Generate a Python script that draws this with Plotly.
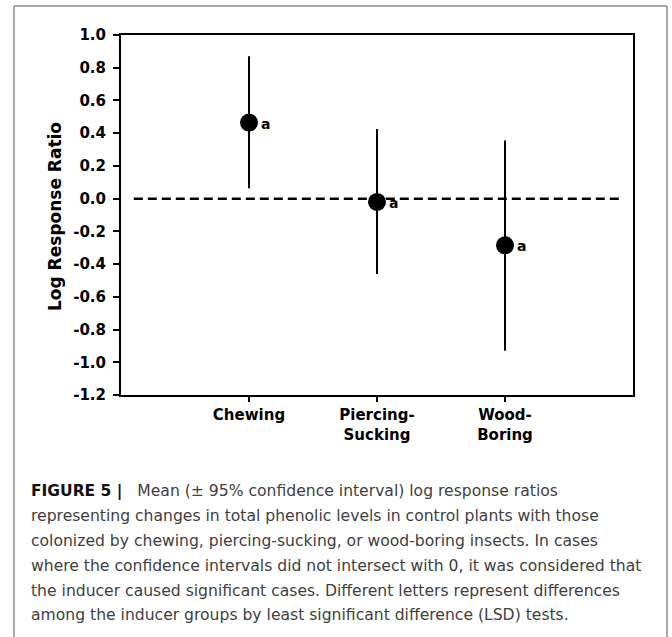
import plotly.graph_objects as go

# ---- data ----
categories = ["Chewing", "Piercing-Sucking", "Wood-Boring"]
tick_labels_x = ["Chewing", "Piercing-<br>Sucking", "Wood-<br>Boring"]
means = [0.465, -0.02, -0.285]
upper = [0.87, 0.425, 0.355]
lower = [0.063, -0.46, -0.93]
letters = ["a", "a", "a"]
y_tick_vals = [1.0, 0.8, 0.6, 0.4, 0.2, 0.0, -0.2, -0.4, -0.6, -0.8, -1.0, -1.2]
y_tick_text = ["1.0", "0.8", "0.6", "0.4", "0.2", "0.0", "-0.2", "-0.4", "-0.6", "-0.8", "-1.0", "-1.2"]
caption_lines = [
    "<span style=\"font-size:15.5px;fill:#111111\"><b>FIGURE 5 |</b></span>\u00a0\u00a0 Mean (\u00b1 95% confidence interval) log response ratios",
    "representing changes in total phenolic levels in control plants with those",
    "colonized by chewing, piercing-sucking, or wood-boring insects. In cases",
    "where the confidence intervals did not intersect with 0, it was considered that",
    "the inducer caused significant cases. Different letters represent differences",
    "among the inducer groups by least significant difference (LSD) tests.",
]

# ---- layout geometry (pixels) ----
W, H = 672, 637
L, R, T, B = 121, 633, 35, 395
PW, PH = R - L, B - T


def px(x):
    return (x - L) / PW


def py(y):
    return (B - y) / PH


xpos = list(range(len(categories)))

fig = go.Figure()
fig.add_trace(go.Scatter(
    x=xpos, y=means, mode="markers",
    marker=dict(size=18, color="black"),
    error_y=dict(type="data", symmetric=False,
                 array=[u - m for u, m in zip(upper, means)],
                 arrayminus=[m - l for m, l in zip(means, lower)],
                 width=0, thickness=2, color="black"),
    showlegend=False, hoverinfo="skip",
))

chart_font = "DejaVu Sans"

# zero reference line
fig.add_shape(type="line", xref="x", yref="y", x0=-0.9, x1=2.9, y0=0, y1=0,
              line=dict(color="black", width=2.5, dash="9px,5px"), layer="below")

# letters
for xi, m, t in zip(xpos, means, letters):
    fig.add_annotation(x=xi, y=m, text=t, showarrow=False, xanchor="left", yanchor="middle",
                       xshift=10, yshift=-1,
                       font=dict(family=chart_font, size=14, color="black", weight="bold"))

# y-axis title
fig.add_annotation(x=px(55), y=py(217), xref="paper", yref="paper", text="Log Response Ratio",
                   textangle=-90, showarrow=False, xanchor="center", yanchor="middle",
                   font=dict(family=chart_font, size=17, color="black", weight="bold"))

# outer frame
frame = dict(color="#8a8a8a", width=1.5)
fig.add_shape(type="line", xref="paper", yref="paper", x0=px(14), x1=px(14), y0=py(6), y1=py(640), line=frame)
fig.add_shape(type="line", xref="paper", yref="paper", x0=px(667), x1=px(667), y0=py(6), y1=py(640), line=frame)
fig.add_shape(type="line", xref="paper", yref="paper", x0=px(14), x1=px(667), y0=py(6), y1=py(6), line=frame)

# caption
cap_y = [491, 516, 541, 566, 591, 615]
for line, yy in zip(caption_lines, cap_y):
    fig.add_annotation(x=px(29), y=py(yy), xref="paper", yref="paper", text=line,
                       showarrow=False, xanchor="left", yanchor="middle", align="left",
                       font=dict(family="DejaVu Sans", size=15.6, color="#404040"))

fig.update_layout(
    width=W, height=H,
    margin=dict(l=L, r=W - R, t=T, b=H - B, pad=0),
    paper_bgcolor="white", plot_bgcolor="white",
    xaxis=dict(range=[-1, 3], tickmode="array", tickvals=xpos, ticktext=tick_labels_x,
               ticks="outside", ticklen=5, tickwidth=2, tickcolor="black",
               showline=True, linewidth=2, linecolor="black", mirror=True,
               showgrid=False, zeroline=False,
               tickfont=dict(family=chart_font, size=15, color="black", weight="bold")),
    yaxis=dict(range=[-1.2, 1.0], tickmode="array", tickvals=y_tick_vals, ticktext=y_tick_text,
               ticks="outside", ticklen=6, tickwidth=2, tickcolor="black",
               showline=True, linewidth=2, linecolor="black", mirror=True,
               showgrid=False, zeroline=False, ticklabelstandoff=4,
               tickfont=dict(family=chart_font, size=15, color="black", weight="bold")),
)

fig.write_html("out.html", config={"displayModeBar": False},
               post_script="document.body.style.margin='0px';")
